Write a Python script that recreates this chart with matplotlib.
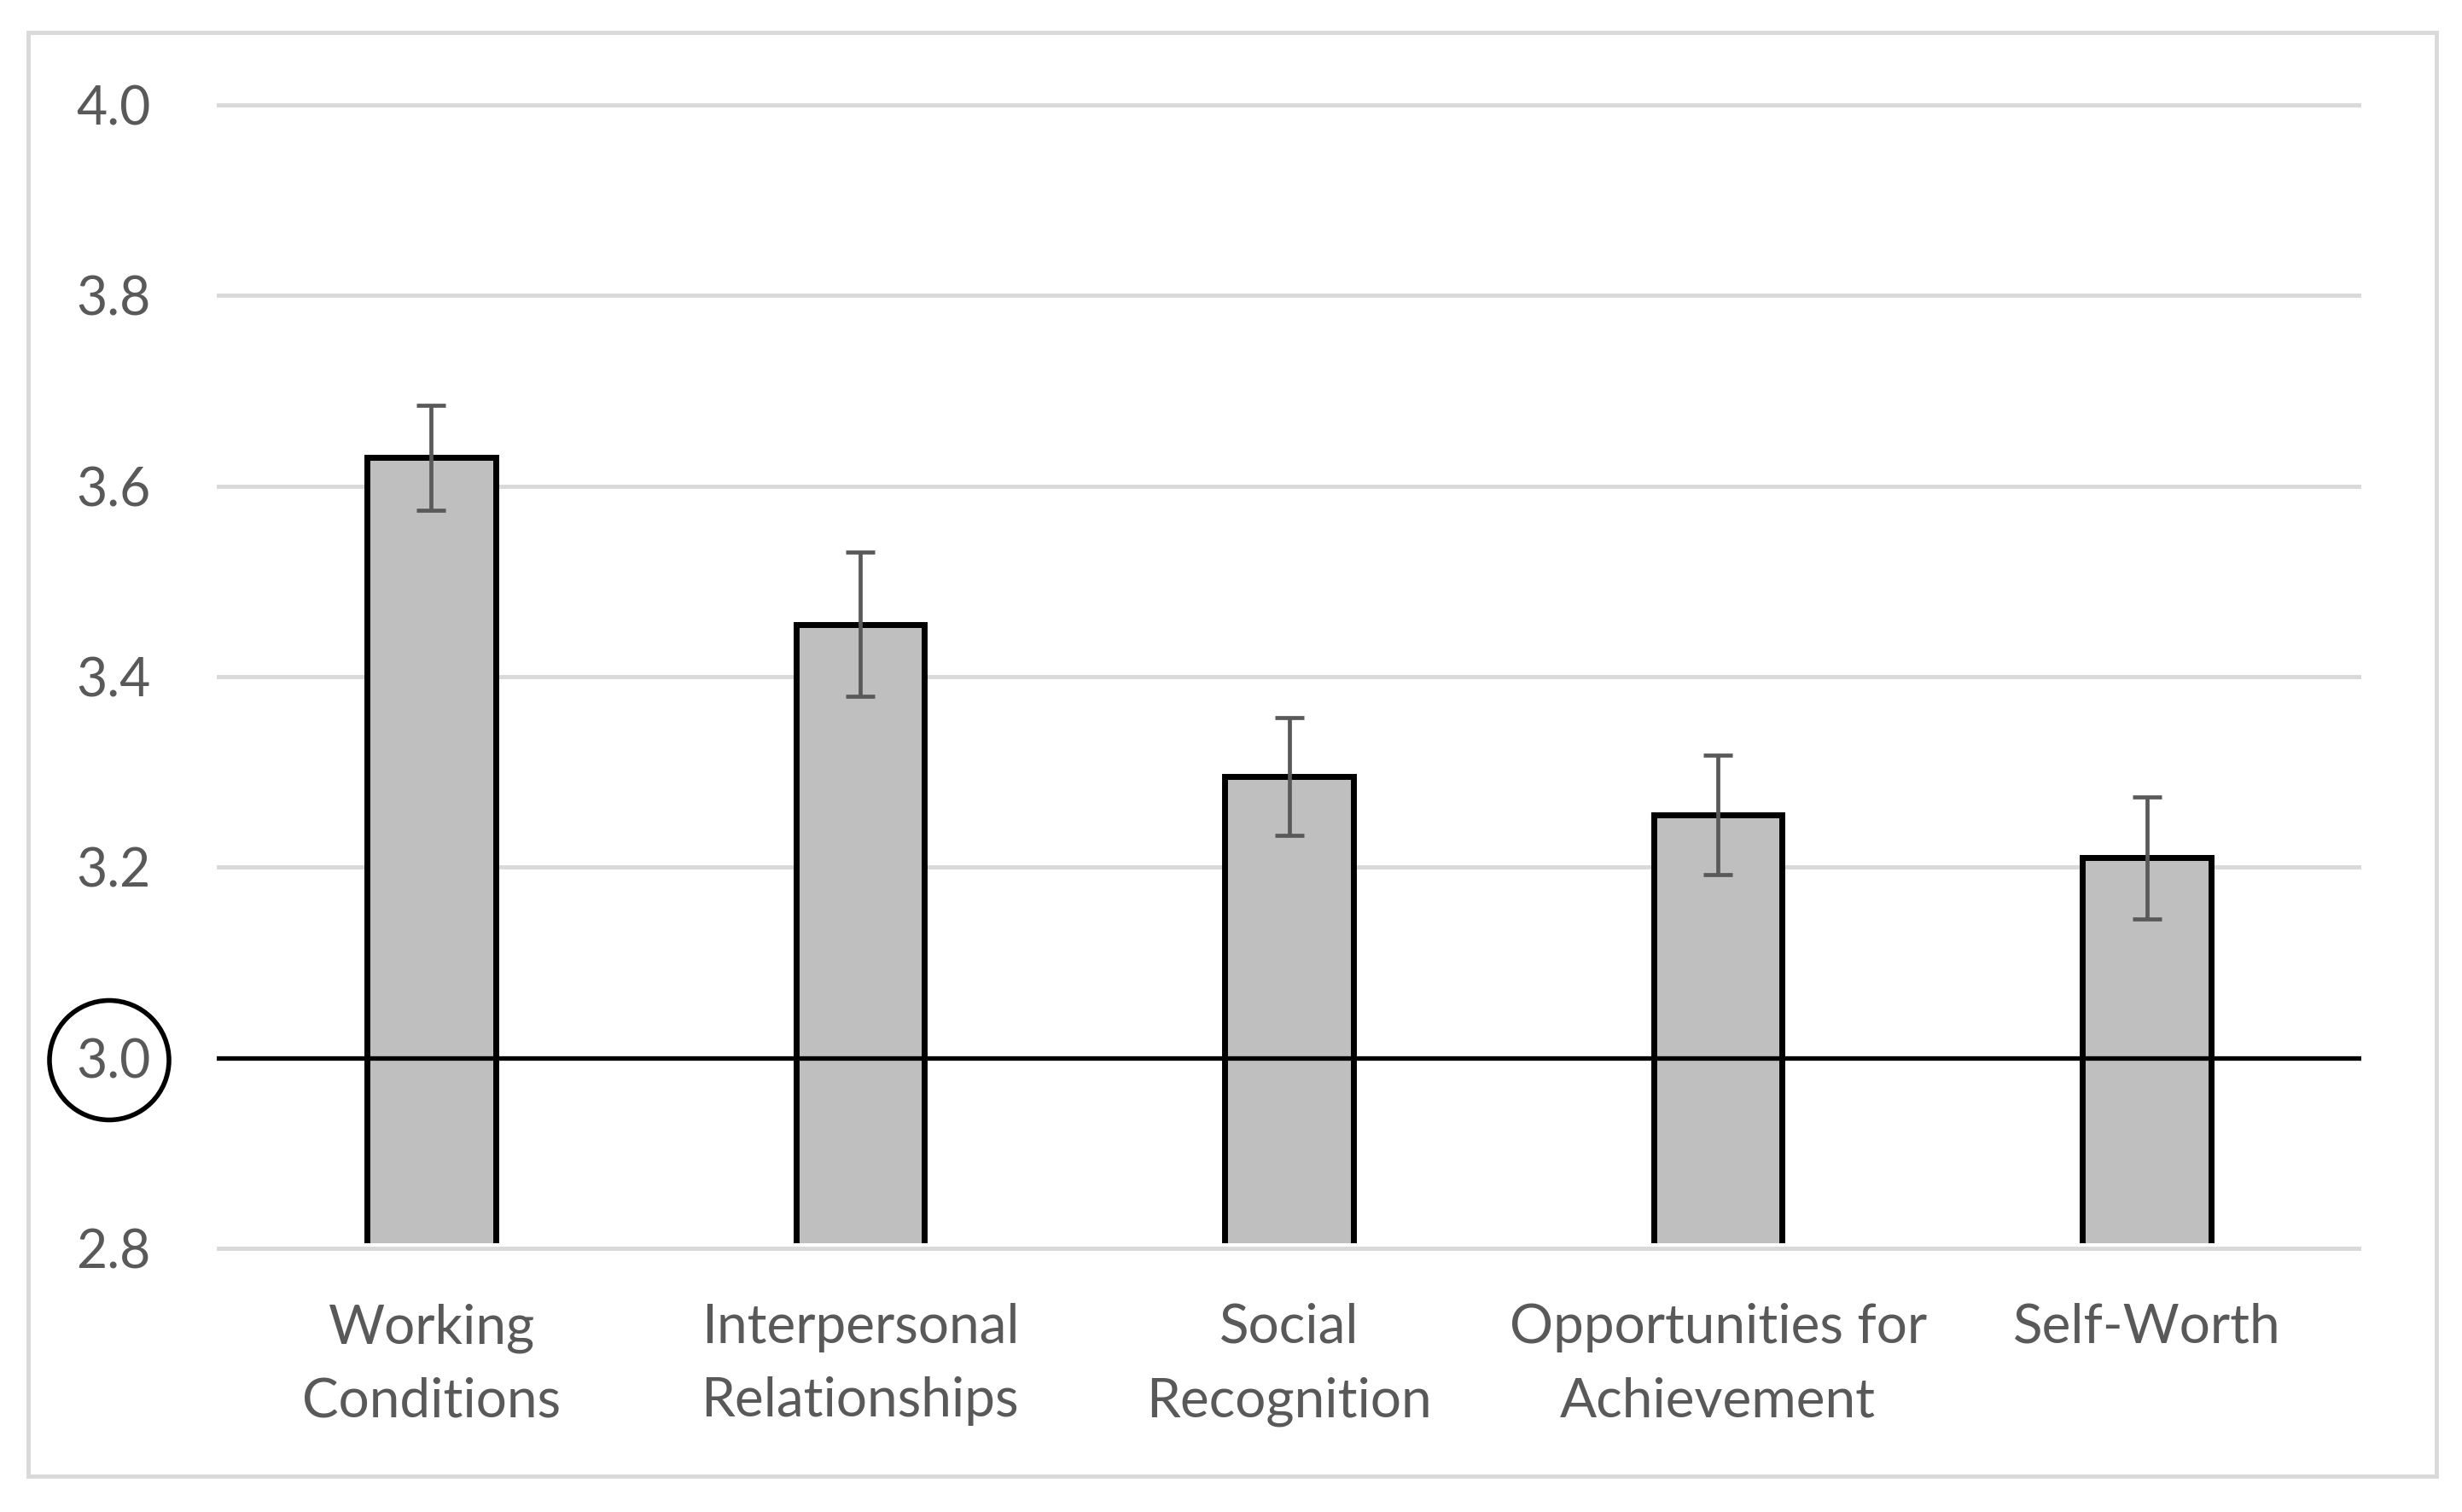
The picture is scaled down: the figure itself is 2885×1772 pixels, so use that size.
import matplotlib
matplotlib.use("Agg")
import matplotlib.pyplot as plt
from matplotlib.patches import Rectangle, Ellipse

categories = ["Working\nConditions", "Interpersonal\nRelationships", "Social\nRecognition",
              "Opportunities for\nAchievement", "Self-Worth"]
means = [3.63, 3.455, 3.295, 3.255, 3.21]
errors = [0.055, 0.076, 0.062, 0.063, 0.064]
yticks = [2.8, 3.0, 3.2, 3.4, 3.6, 3.8, 4.0]
ytick_labels = ["2.8", "3.0", "3.2", "3.4", "3.6", "3.8", "4.0"]
reference_value = 3.0

W, H = 2885, 1772
DPI = 100
plt.rcParams['font.family'] = ['Lato', 'DejaVu Sans']

fig = plt.figure(figsize=(W / DPI, H / DPI), dpi=DPI)
fig.patch.set_facecolor("white")

ymin, ymax = 2.78, 4.02
y28_px, y40_px = 1463, 123
ppu = (y28_px - y40_px) / 1.2
bot_px = y28_px + (2.8 - ymin) * ppu
top_px = y40_px - (ymax - 4.0) * ppu
left_px, right_px = 254, 2767
ax = fig.add_axes([left_px / W, 1 - bot_px / H, (right_px - left_px) / W, (bot_px - top_px) / H])

x = list(range(len(categories)))
bars = ax.bar(x, means, width=0.30, color="#bfbfbf", edgecolor="black", linewidth=5, zorder=3)
clip = Rectangle((-0.5, 2.805), 5.0, 1.3, transform=ax.transData)
for b in bars:
    b.set_clip_path(clip)
ax.errorbar(x, means, yerr=errors, fmt="none", ecolor="#595959", elinewidth=3.4,
            capsize=12, capthick=3.4, zorder=4)
ax.axhline(reference_value, color="black", linewidth=3.8, zorder=5)

ax.set_xlim(-0.5, 4.5)
ax.set_ylim(ymin, ymax)
ax.set_yticks(yticks)
ax.set_yticklabels(ytick_labels)
ax.set_xticks(x)
ax.set_xticklabels(categories, linespacing=1.6)
ax.yaxis.grid(True, color="#d9d9d9", linewidth=3.5, zorder=0)
ax.set_axisbelow(True)
for s in ax.spines.values():
    s.set_visible(False)
ax.tick_params(axis="y", length=0, pad=56, labelsize=45, labelcolor="#595959")
ax.tick_params(axis="x", length=0, pad=30, labelsize=46, labelcolor="#595959")

fig.add_artist(Rectangle((33 / W, 1 - 1730 / H), (2855 - 33) / W, (1730 - 38) / H,
                         transform=fig.transFigure, fill=False, edgecolor="#d9d9d9",
                         linewidth=3.5))
cy = 1 - 1242.5 / H
fig.add_artist(Ellipse((128 / W, cy), 2 * 70 / W, 2 * 70 / H, transform=fig.transFigure,
                       fill=False, edgecolor="black", linewidth=4))

fig.savefig("out.png", dpi=DPI, facecolor="white")
